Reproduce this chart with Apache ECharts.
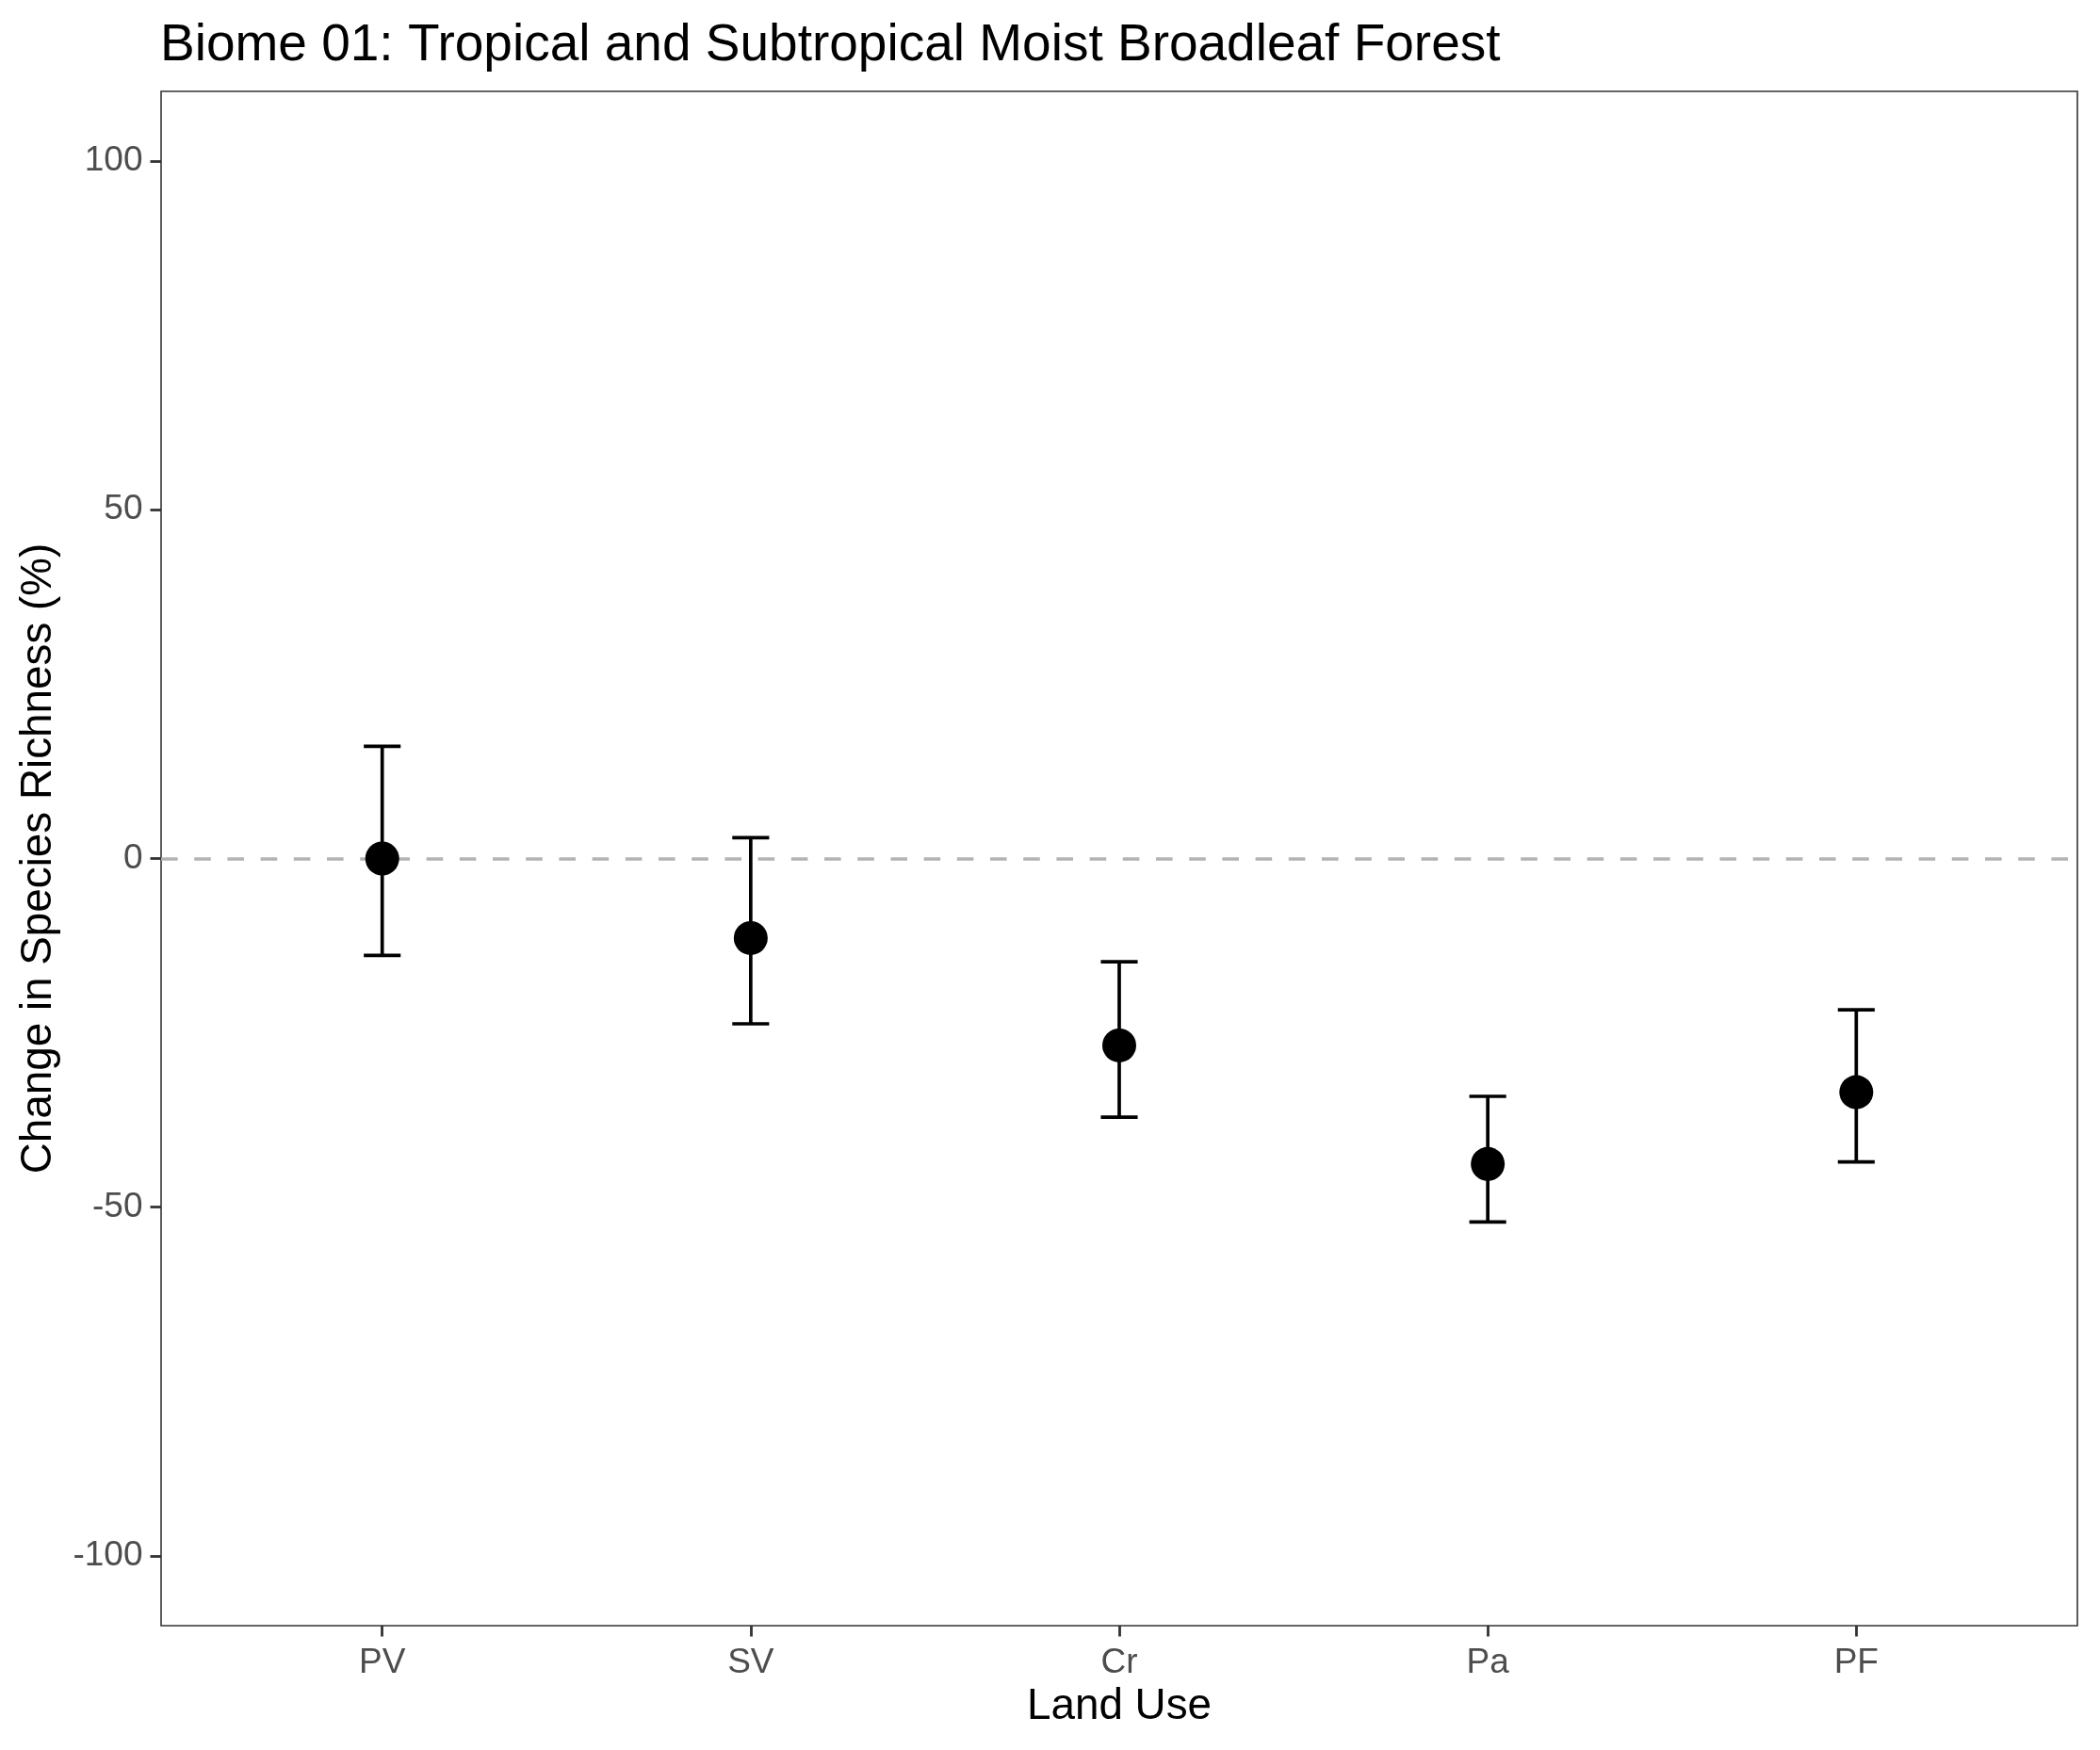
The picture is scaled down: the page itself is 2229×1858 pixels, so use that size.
<!DOCTYPE html>
<html>
<head>
<meta charset="utf-8">
<script src="https://cdn.jsdelivr.net/npm/echarts@6/dist/echarts.min.js"></script>
<style>
html,body{margin:0;padding:0;background:#fff;}
#chart{width:2229px;height:1858px;}
</style>
</head>
<body>
<div id="chart"></div>
<script>
var titleText = 'Biome 01: Tropical and Subtropical Moist Broadleaf Forest';
var categories = ['PV', 'SV', 'Cr', 'Pa', 'PF'];
var estimate = [0, -11.4, -26.8, -43.8, -33.5];
var lower = [-13.9, -23.7, -37.1, -52.1, -43.5];
var upper = [16.1, 3.0, -14.8, -34.1, -21.7];
var yTicks = [-100, -50, 0, 50, 100];
var xName = 'Land Use';
var yName = 'Change in Species Richness (%)';

var FONT = "'Liberation Sans', Arial, Helvetica, sans-serif";
var xPos = categories.map(function (c, i) { return i + 1; });
var barData = categories.map(function (c, i) { return [i + 1, lower[i], upper[i]]; });
var pointData = categories.map(function (c, i) { return [i + 1, estimate[i]]; });
var CAP = 0.1;

var chart = echarts.init(document.getElementById('chart'), null, {renderer: 'canvas'});
chart.setOption({
  animation: false,
  backgroundColor: '#ffffff',
  title: {
    text: titleText,
    left: 170,
    top: 21,
    padding: 0,
    textStyle: {fontFamily: FONT, fontSize: 55, fontWeight: 'normal', color: '#000000'}
  },
  grid: {
    left: 171, right: 24, top: 97, bottom: 132,
    show: true, borderColor: '#333333', borderWidth: 1.6, backgroundColor: '#ffffff',
    containLabel: false
  },
  xAxis: {
    type: 'value', min: 0.4, max: 5.6,
    name: xName, nameLocation: 'middle', nameGap: 63,
    nameTextStyle: {fontFamily: FONT, fontSize: 45.8, color: '#000000'},
    axisLine: {show: false, onZero: false},
    splitLine: {show: false},
    axisTick: {show: true, length: 11.5, customValues: xPos, lineStyle: {color: '#333333', width: 2.8}},
    axisLabel: {
      customValues: xPos, margin: 21,
      fontFamily: FONT, fontSize: 37, color: '#4D4D4D',
      formatter: function (v) { return categories[Math.round(v) - 1]; }
    }
  },
  yAxis: {
    type: 'value', min: -110, max: 110,
    name: yName, nameLocation: 'middle', nameGap: 107, nameRotate: 90,
    nameTextStyle: {fontFamily: FONT, fontSize: 45.8, color: '#000000'},
    axisLine: {show: false, onZero: false},
    splitLine: {show: false},
    axisTick: {show: true, length: 11.5, customValues: yTicks, lineStyle: {color: '#333333', width: 2.8}},
    axisLabel: {
      customValues: yTicks, margin: 19.5,
      fontFamily: FONT, fontSize: 37, color: '#4D4D4D'
    }
  },
  series: [
    {
      type: 'custom',
      z: 2,
      data: barData,
      encode: {x: 0, y: [1, 2]},
      renderItem: function (params, api) {
        var x = api.value(0), lo = api.value(1), hi = api.value(2);
        var pLo = api.coord([x, lo]);
        var pHi = api.coord([x, hi]);
        var half = api.size([CAP, 0])[0] / 2;
        var st = {stroke: '#000000', lineWidth: 3.7, fill: null};
        return {
          type: 'group',
          children: [
            {type: 'line', shape: {x1: pLo[0], y1: pLo[1], x2: pHi[0], y2: pHi[1]}, style: st},
            {type: 'line', shape: {x1: pLo[0] - half, y1: pLo[1], x2: pLo[0] + half, y2: pLo[1]}, style: st},
            {type: 'line', shape: {x1: pHi[0] - half, y1: pHi[1], x2: pHi[0] + half, y2: pHi[1]}, style: st}
          ]
        };
      },
      markLine: {
        silent: true,
        symbol: ['none', 'none'],
        label: {show: false},
        z: 1,
        lineStyle: {color: '#B3B3B3', width: 3.5, type: [17.6, 17.6]},
        data: [{yAxis: 0}]
      }
    },
    {
      type: 'scatter',
      z: 5,
      data: pointData,
      symbol: 'circle',
      symbolSize: 36,
      itemStyle: {color: '#000000', opacity: 1}
    }
  ]
});
</script>
</body>
</html>
